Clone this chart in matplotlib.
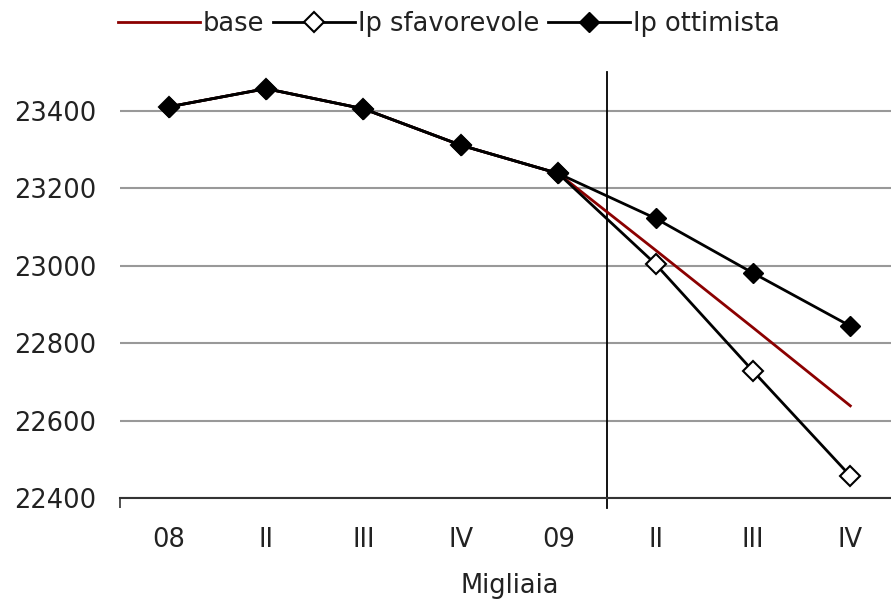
import matplotlib
matplotlib.use('Agg')
import matplotlib.pyplot as plt

# trimestri
periodi = ['08', 'II', 'III', 'IV', '09', 'II', 'III', 'IV']
base = [23410, 23457, 23405, 23311, 23238, 23040, 22840, 22638]
sfavorevole = [23410, 23457, 23405, 23311, 23238, 23004, 22728, 22457]
ottimista = [23410, 23457, 23405, 23311, 23238, 23122, 22981, 22844]

plt.rcParams['font.family'] = 'DejaVu Sans'
fig = plt.figure(figsize=(8.91, 6.02), dpi=100)
ax = fig.add_axes([120/891, 104/602, 779/891, 426/602])

x = range(len(periodi))
ax.plot(x, base, color='#8b0000', lw=2, label='base', zorder=3)
ax.plot(x, sfavorevole, color='black', lw=2, marker='D', ms=10,
        mfc='white', mec='black', mew=1.5, label='Ip sfavorevole', zorder=4)
ax.plot(x, ottimista, color='black', lw=2, marker='D', ms=10,
        mfc='black', mec='black', label='Ip ottimista', zorder=5)

ax.set_xlim(-0.5, 7.5)
ax.set_ylim(22400, 23500)
ax.set_yticks([22400, 22600, 22800, 23000, 23200, 23400])
ax.set_xticks(list(x))
ax.set_xticklabels(periodi)
ax.tick_params(axis='x', length=0, pad=21, labelsize=18.5, colors='#222222')
ax.tick_params(axis='y', length=0, pad=17, labelsize=18.5, colors='#222222')
ax.set_xticks([-0.5], minor=True)
ax.tick_params(axis='x', which='minor', length=7, width=1.2, color='#333333')

for s in ['top', 'right', 'left']:
    ax.spines[s].set_visible(False)
ax.spines['bottom'].set_color('#333333')
ax.spines['bottom'].set_linewidth(1.5)
ax.grid(axis='y', color='#999999', lw=1.5)
ax.set_axisbelow(True)

# separatore storico / previsione
ax.plot([4.5, 4.5], [22400 - 25, 23500], color='black', lw=1.3, clip_on=False, zorder=2)

ax.set_xlabel('Migliaia', fontsize=18.5, labelpad=14, color='#222222')

ax.legend(loc='upper left', bbox_to_anchor=(-0.016, 1.168), ncol=3, frameon=False,
          fontsize=18.5, handlelength=3.2, handletextpad=0.1, columnspacing=0.35,
          borderaxespad=0, labelcolor='#222222')

fig.savefig('out.png', dpi=100)
